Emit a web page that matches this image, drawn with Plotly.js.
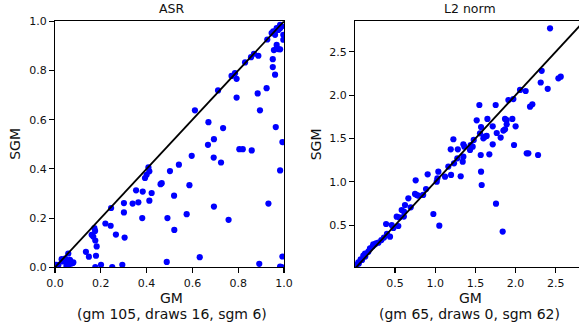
<!DOCTYPE html>
<html>
<head>
<meta charset="utf-8">
<script src="https://cdn.plot.ly/plotly-3.0.1.min.js"></script>
<style>
html,body{margin:0;padding:0;overflow:hidden;background:#fff;}
#chart{width:582px;height:330px;}
</style>
</head>
<body>
<div id="chart"></div>
<script>
// ASR panel data (GM vs SGM)
const asrGM = [0.983,0.968,0.990,0.953,0.946,0.961,0.997,0.997,0.983,0.975,
  0.927,0.968,0.983,0.956,0.968,0.975,0.951,0.951,0.961,0.888,
  0.869,0.856,0.830,0.786,0.771,0.793,0.924,0.885,0.793,0.712,
  0.895,0.611,0.670,0.734,0.964,0.993,0.668,0.694,0.805,0.820,
  0.859,0.597,0.693,0.725,0.983,0.408,0.412,0.400,0.393,0.502,
  0.541,0.466,0.461,0.587,0.354,0.383,0.422,0.412,0.520,0.301,
  0.339,0.364,0.245,0.301,0.694,0.932,0.575,0.381,0.491,0.758,
  0.220,0.243,0.521,0.266,0.304,0.172,0.175,0.160,0.167,0.176,
  0.182,0.135,0.148,0.179,0.058,0.044,0.066,0.077,0.051,0.036,
  0.015,0.007,0.632,0.488,0.892,0.993,0.983,0.990,0.201,0.176,
  0.250,0.294,0.060,0.070,0.050,0.080,0.065,0.000,0.005,0.029];
const asrSGM = [0.986,0.972,0.979,0.959,0.952,0.945,0.945,0.925,0.972,0.965,
  0.926,0.904,0.886,0.883,0.890,0.887,0.846,0.814,0.783,0.860,
  0.868,0.854,0.833,0.789,0.778,0.766,0.728,0.707,0.690,0.719,
  0.638,0.638,0.590,0.566,0.570,0.509,0.498,0.521,0.480,0.480,
  0.475,0.453,0.446,0.426,0.394,0.406,0.390,0.376,0.363,0.391,
  0.417,0.342,0.338,0.334,0.313,0.308,0.302,0.271,0.291,0.261,
  0.259,0.264,0.241,0.223,0.247,0.259,0.216,0.200,0.200,0.193,
  0.178,0.169,0.152,0.133,0.121,0.159,0.148,0.132,0.125,0.109,
  0.085,0.063,0.043,0.047,0.056,0.035,0.026,0.017,0.017,0.024,
  0.010,0.003,0.041,0.022,0.014,0.044,0.003,0.001,0.010,0.001,
  0.001,0.010,0.010,0.015,0.005,0.020,0.030,0.000,0.010,0.033];

// L2 norm panel data (GM vs SGM)
const l2GM = [2.428,2.324,2.312,2.399,2.532,2.561,2.055,2.125,1.972,1.910,
  1.549,1.752,2.179,2.208,1.516,1.649,1.868,1.889,1.959,1.570,
  1.715,1.889,1.868,1.848,2.000,1.765,1.557,1.640,1.599,1.814,
  1.619,1.715,1.980,2.138,2.158,2.279,1.566,1.673,1.226,1.479,
  1.441,1.466,1.350,1.363,1.193,1.281,1.433,1.275,1.350,1.342,
  1.234,1.163,1.570,1.039,0.906,1.122,1.197,1.317,1.027,1.019,
  0.757,1.578,0.886,0.749,0.770,0.790,0.666,0.695,0.624,0.583,
  0.612,0.521,0.554,0.541,0.459,0.389,0.438,0.363,0.977,1.051,
  1.756,1.839,0.293,0.251,0.222,0.189,0.127,0.106,0.073,0.044,
  0.023,0.002,0.168,0.230,0.264,0.330,0.400,0.480,0.610,0.850,
  0.130,0.050,0.090];
const l2SGM = [2.769,2.279,2.145,2.072,2.193,2.212,2.059,2.047,1.954,1.943,
  1.886,1.886,1.867,1.894,1.709,1.725,1.725,1.713,1.725,1.632,
  1.640,1.663,1.606,1.591,1.640,1.563,1.559,1.529,1.502,1.510,
  1.521,1.433,1.425,1.329,1.329,1.310,1.310,1.318,1.491,1.483,
  1.425,1.406,1.433,1.406,1.375,1.375,1.368,1.271,1.291,1.233,
  1.214,1.176,1.118,1.118,1.087,1.060,1.080,1.065,1.041,1.003,
  1.018,0.964,0.918,0.861,0.849,0.841,0.811,0.707,0.734,0.676,
  0.657,0.599,0.591,0.492,0.503,0.515,0.369,0.358,0.630,0.496,
  0.749,0.427,0.300,0.281,0.258,0.235,0.173,0.150,0.108,0.073,
  0.043,0.016,0.196,0.280,0.293,0.330,0.400,0.470,0.600,0.850,
  0.140,0.060,0.100];

// reference line y = x
const diagASR = [0, 1];
const diagL2 = [0, 3];

const titles = ["ASR", "L2 norm"];
const xLabel = "GM";
const yLabel = "SGM";
const subtitles = ["(gm 105, draws 16, sgm 6)", "(gm 65, draws 0, sgm 62)"];

const W = 582, H = 330;
const FONT = "DejaVu Sans, sans-serif";
const px = v => v / W;
const py = v => (H - v) / H;

const mk = {color: "#0000ff", size: 6.2, line: {width: 0}};
const traces = [
  {x: asrGM, y: asrSGM, type: "scatter", mode: "markers", marker: mk, xaxis: "x", yaxis: "y", hoverinfo: "none"},
  {x: diagASR, y: diagASR, type: "scatter", mode: "lines", line: {color: "#000", width: 1.8}, xaxis: "x", yaxis: "y", hoverinfo: "none"},
  {x: l2GM, y: l2SGM, type: "scatter", mode: "markers", marker: mk, xaxis: "x2", yaxis: "y2", hoverinfo: "none"},
  {x: diagL2, y: diagL2, type: "scatter", mode: "lines", line: {color: "#000", width: 1.8}, xaxis: "x2", yaxis: "y2", hoverinfo: "none"}
];

const axBase = {
  showgrid: false, zeroline: false, showline: true, linecolor: "#000", linewidth: 1.1,
  mirror: true, ticks: "outside", ticklen: 5, tickwidth: 1.1, tickcolor: "#000",
  tickfont: {family: FONT, size: 11, color: "#111"}, fixedrange: true
};
const yDom = [py(267.3), py(21.3)];

const layout = {
  width: W, height: H,
  margin: {l: 0, r: 0, t: 0, b: 0},
  paper_bgcolor: "#fff", plot_bgcolor: "#fff",
  showlegend: false,
  font: {family: FONT, color: "#111"},
  xaxis: Object.assign({}, axBase, {domain: [px(55), px(284)], range: [0, 1], tickvals: [0,0.2,0.4,0.6,0.8,1.0], ticktext: ["0.0","0.2","0.4","0.6","0.8","1.0"], anchor: "y"}),
  yaxis: Object.assign({}, axBase, {domain: yDom, range: [0, 1], tickvals: [0,0.2,0.4,0.6,0.8,1.0], ticktext: ["0.0","0.2","0.4","0.6","0.8","1.0"], anchor: "x"}),
  xaxis2: Object.assign({}, axBase, {domain: [px(355), px(581)], range: [0.0025, 2.813], tickvals: [0.5,1.0,1.5,2.0,2.5], ticktext: ["0.5","1.0","1.5","2.0","2.5"], anchor: "y2"}),
  yaxis2: Object.assign({}, axBase, {domain: yDom, range: [0.016, 2.850], tickvals: [0.5,1.0,1.5,2.0,2.5], ticktext: ["0.5","1.0","1.5","2.0","2.5"], anchor: "x2"}),
  annotations: [
    {text: titles[0], x: px(171.7), y: py(9), xref: "paper", yref: "paper", showarrow: false, xanchor: "center", yanchor: "middle", font: {family: FONT, size: 12.5, color: "#111"}},
    {text: titles[1], x: px(470), y: py(9), xref: "paper", yref: "paper", showarrow: false, xanchor: "center", yanchor: "middle", font: {family: FONT, size: 12.5, color: "#111"}},
    {text: xLabel, x: px(171.7), y: py(297.5), xref: "paper", yref: "paper", showarrow: false, xanchor: "center", yanchor: "middle", font: {family: FONT, size: 14, color: "#111"}},
    {text: xLabel, x: px(470), y: py(297.5), xref: "paper", yref: "paper", showarrow: false, xanchor: "center", yanchor: "middle", font: {family: FONT, size: 14, color: "#111"}},
    {text: subtitles[0], x: px(171.7), y: py(313.5), xref: "paper", yref: "paper", showarrow: false, xanchor: "center", yanchor: "middle", font: {family: FONT, size: 14, color: "#111"}},
    {text: subtitles[1], x: px(469.3), y: py(313.5), xref: "paper", yref: "paper", showarrow: false, xanchor: "center", yanchor: "middle", font: {family: FONT, size: 14, color: "#111"}},
    {text: yLabel, x: px(15.5), y: py(144.3), xref: "paper", yref: "paper", showarrow: false, textangle: -90, xanchor: "center", yanchor: "middle", font: {family: FONT, size: 14, color: "#111"}},
    {text: yLabel, x: px(316), y: py(144.3), xref: "paper", yref: "paper", showarrow: false, textangle: -90, xanchor: "center", yanchor: "middle", font: {family: FONT, size: 14, color: "#111"}}
  ]
};

Plotly.newPlot("chart", traces, layout, {staticPlot: true, displayModeBar: false});
</script>
</body>
</html>
